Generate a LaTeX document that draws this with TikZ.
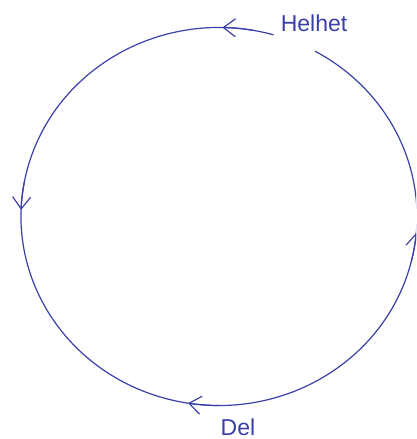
\documentclass[tikz,border=0pt]{standalone}
\usepackage{fontspec}
\setmainfont{Liberation Sans}
\usetikzlibrary{arrows.meta}
\definecolor{cycblue}{RGB}{58,64,168}

\begin{document}
\begin{tikzpicture}[x=1pt, y=1pt,
        loop/.style={draw=cycblue, line width=1.2pt},
        tick/.style={loop, -{Straight Barb[length=12pt, width=18pt]}},
        lbl/.style={text=cycblue, inner sep=1pt, font=\fontsize{23}{27}\selectfont}
    ]
    \useasboundingbox (0,0) rectangle (416,439);
    \clip (0,0) rectangle (416,439);
    \coordinate (c) at (219,222.5);

    % the loop, open near the top right
    \draw[loop] (c) ++(74:198 and 189) arc[start angle=74, end angle=421, x radius=198, y radius=189];

    % direction marks
    \draw[tick] (c) ++(80:198 and 189) arc[start angle=80, end angle=89, x radius=198, y radius=189];
    \draw[tick] (c) ++(169:198 and 189) arc[start angle=169, end angle=178, x radius=198, y radius=189];
    \draw[tick] (c) ++(270:198 and 189) arc[start angle=270, end angle=261, x radius=198, y radius=189];
    \draw[tick] (c) ++(346:198 and 189) arc[start angle=346, end angle=355, x radius=198, y radius=189];

    \node[lbl] (helhet) at (314,416) {Helhet};
    \node[lbl, anchor=base] (del) at (238,4) {Del};
\end{tikzpicture}
\end{document}
